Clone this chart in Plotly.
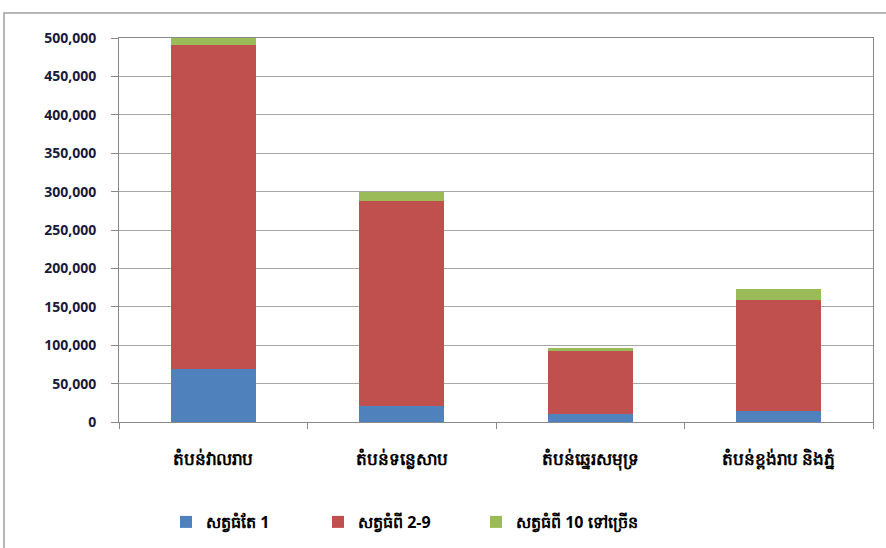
import plotly.graph_objects as go

categories = ["តំបន់វាលរាប", "តំបន់ទន្លេសាប", "តំបន់ឆ្នេរសមុទ្រ", "តំបន់ខ្ពង់រាប និងភ្នំ"]
series_names = ["សត្វធំតែ 1", "សត្វធំពី 2-9", "សត្វធំពី 10 ទៅច្រើន"]
only_one = [69000, 21000, 10000, 14000]
two_to_nine = [422000, 267000, 83000, 145000]
ten_plus = [9000, 12000, 3000, 14000]
colors = ["#4F81BD", "#C0504D", "#9BBB59"]
ytick_vals = [0, 50000, 100000, 150000, 200000, 250000, 300000, 350000, 400000, 450000, 500000]
ytick_text = ["0", "50,000", "100,000", "150,000", "200,000", "250,000", "300,000",
              "350,000", "400,000", "450,000", "500,000"]

W, H = 886, 548
L, R, T, B = 119, 13, 38, 126
pw, ph = W - L - R, H - T - B

legend_ids = ["legend", "legend2", "legend3"]
legend_left_px = [166, 318, 476]

fig = go.Figure()
for name, vals, col, lid in zip(series_names, [only_one, two_to_nine, ten_plus], colors, legend_ids):
    fig.add_trace(go.Bar(x=categories, y=vals, name=name, legend=lid,
                         marker=dict(color=col, line=dict(width=0))))

legend_font = dict(size=16, family="Open Sans, DejaVu Sans, sans-serif", weight="bold")
leg_kwargs = {}
for lid, lx in zip(legend_ids, legend_left_px):
    leg_kwargs[lid] = dict(orientation="h", xref="container", yref="container",
                           x=lx / W, xanchor="left", y=(H - 522) / H, yanchor="middle",
                           font=legend_font, bgcolor="rgba(0,0,0,0)")

fig.update_layout(
    width=W, height=H,
    barmode="stack", bargap=0.55,
    margin=dict(l=L, r=R, t=T, b=B),
    paper_bgcolor="white", plot_bgcolor="white",
    font=dict(family="Open Sans, DejaVu Sans, sans-serif", color="#000000"),
    showlegend=True,
    xaxis=dict(showline=True, linecolor="#888888", linewidth=1, mirror=True,
               ticks="outside", tickson="boundaries", ticklen=6, tickcolor="#888888",
               ticklabelstandoff=22,
               tickfont=dict(size=17, family="Open Sans, DejaVu Sans, sans-serif", weight="bold"),
               showgrid=False, automargin=False),
    yaxis=dict(range=[0, 500000], tickvals=ytick_vals, ticktext=ytick_text,
               showline=True, linecolor="#888888", linewidth=1, mirror=True,
               ticks="outside", ticklen=7, tickcolor="#888888",
               ticklabelstandoff=12,
               showgrid=True, gridcolor="#A6A6A6", gridwidth=1,
               tickfont=dict(size=14, family="Open Sans, sans-serif", color="#1A1A3A", weight="bold"),
               zeroline=False, automargin=False),
    **leg_kwargs,
)

# outer chart frame (left and top edges visible)
fig.add_shape(type="rect", xref="paper", yref="paper",
              x0=(4 - L) / pw, x1=(W + 20 - L) / pw,
              y0=-(B + 20) / ph, y1=1 + (T - 13) / ph,
              line=dict(color="#A0A0A0", width=1.5), layer="below")

fig.write_html("out.html", config={"displayModeBar": False},
               post_script="document.body.style.margin='0';document.body.style.overflow='hidden';")
